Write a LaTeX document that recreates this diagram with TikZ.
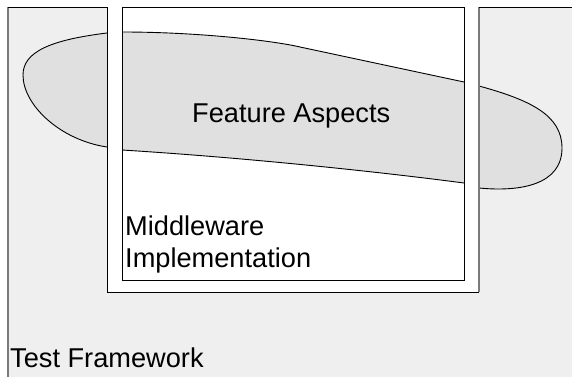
\documentclass[tikz,border=0pt]{standalone}
\usepackage{fontspec}
\setmainfont{Liberation Sans}
\definecolor{framegray}{HTML}{EFEFEF}
\definecolor{aspectgray}{HTML}{E0E0E0}
\definecolor{edgegray}{HTML}{7A7A7A}
\begin{document}
\begin{tikzpicture}[x=1pt,y=-1pt,
  label/.style={anchor=base west,inner sep=0pt,font=\fontsize{27.2}{32}\selectfont},
  edge/.style={line width=0.9pt,draw=black},
  softedge/.style={line width=1.2pt,draw=edgegray}]
\useasboundingbox (0,0) rectangle (572,377);
\fill[white] (0,0) rectangle (572,377);

% test framework area and the white frame cut into it
\fill[framegray] (8,7) rectangle (572,377);
\fill[white] (107,7) rectangle (479,292);

% feature aspects blob, visible outside the white frame band only
\begin{scope}
  \clip (0,0) rectangle (107,377) (122,7) rectangle (464,280) (479,0) rectangle (572,377);
  \filldraw[fill=aspectgray,draw=black,line width=0.9pt]
    (107,33) .. controls (50,40) and (23,52) .. (23,75)
    .. controls (23,105) and (60,140) .. (107,147)
    -- (122,150) .. controls (250,158) and (380,172) .. (464,183)
    -- (479,188) .. controls (520,192) and (562,185) .. (562,148)
    .. controls (562,115) and (530,100) .. (479,86)
    -- (464,82) -- (300,47) .. controls (275,41) and (200,32) .. (122,32)
    -- cycle;
\end{scope}

% outlines
\draw[softedge] (8,7) -- (8,377);
\draw[edge] (8,7) -- (107,7) -- (107,292) -- (479,292);
\draw[softedge] (479,292) -- (479,7);
\draw[edge] (479,7) -- (572,7);
\draw[edge] (122,7) rectangle (464,280);

% labels
\node[label] (aspects) at (192,122) {Feature Aspects};
\node[label] (mwA) at (125,235) {Middleware};
\node[label] (mwB) at (125,267) {Implementation};
\node[label] (tf) at (10,367) {Test Framework};
\end{tikzpicture}
\end{document}
